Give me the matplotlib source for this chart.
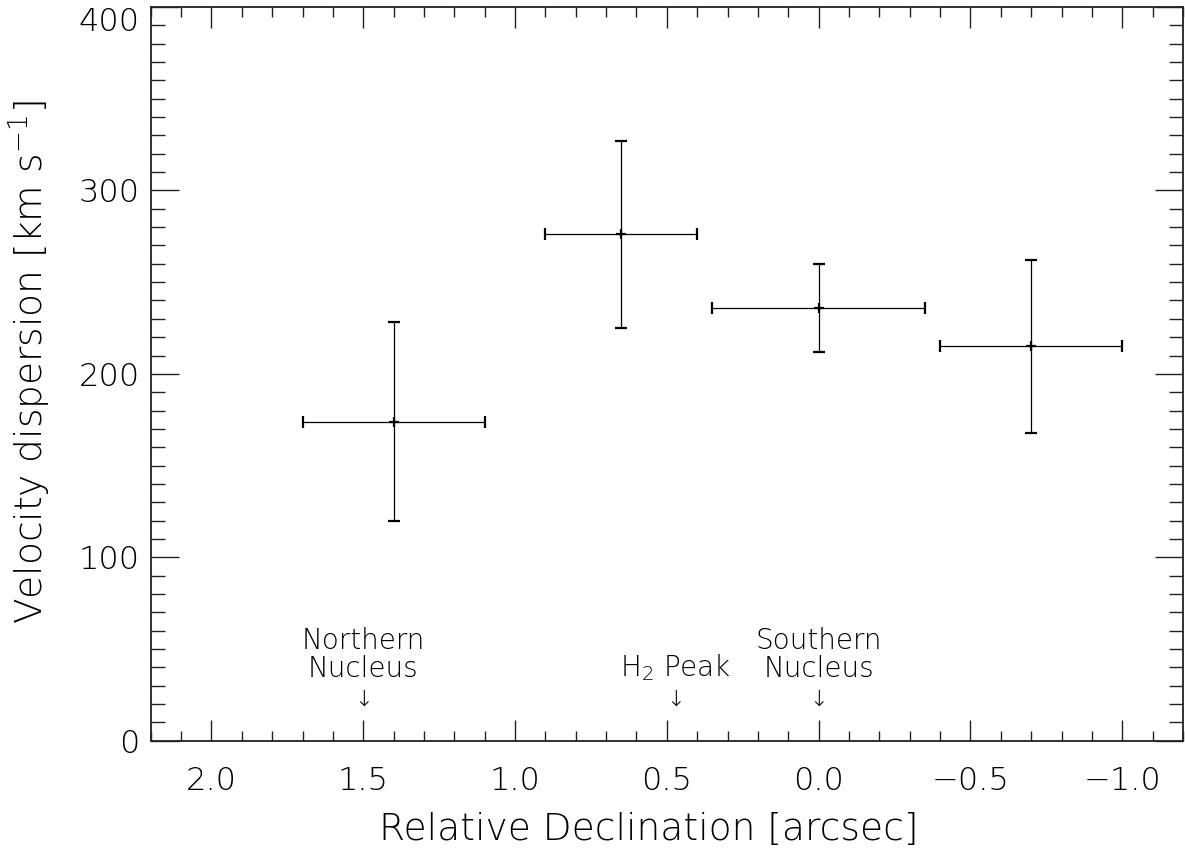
import numpy as np
import matplotlib
matplotlib.use("Agg")
import matplotlib.pyplot as plt
from matplotlib.ticker import MultipleLocator

# data
dec = [1.4, 0.65, 0.0, -0.7]
dec_err = [0.3, 0.25, 0.35, 0.3]
sigma = [174, 276, 236, 215]
sigma_err = [54, 51, 24, 47]

labels = ["Northern\nNucleus", "H$_2$ Peak", "Southern\nNucleus"]
label_pos = [1.5, 0.47, 0.0]

plt.rcParams['font.family'] = ['DejaVu Sans']
plt.rcParams['mathtext.fontset'] = 'custom'
plt.rcParams['mathtext.rm'] = 'DejaVu Sans:light'
plt.rcParams['mathtext.it'] = 'DejaVu Sans:light'
plt.rcParams['mathtext.bf'] = 'DejaVu Sans:light'
plt.rcParams['mathtext.default'] = 'rm'

fig = plt.figure(figsize=(11.85, 8.58), dpi=100)
ax = fig.add_axes([150.7 / 1185, 1 - 740.7 / 858, (1183 - 150.7) / 1185, (740.7 - 7) / 858])

ax.errorbar(dec, sigma, xerr=dec_err, yerr=sigma_err, fmt='+', color='black',
            ms=7, mew=1.6, elinewidth=0.9, capsize=4.5, capthick=0.9)

for lab, x in zip(labels, label_pos):
    ax.text(x, 35, lab, ha='center', va='baseline', fontsize=20, fontweight='light',
            linespacing=1.0)
    ax.text(x, 22, '\u2193', ha='center', va='center', fontsize=16, fontweight='light')

ax.set_xlim(2.2, -1.2)
ax.set_ylim(0, 400)
ax.xaxis.set_major_locator(MultipleLocator(0.5))
ax.xaxis.set_minor_locator(MultipleLocator(0.1))
ax.yaxis.set_major_locator(MultipleLocator(100))
ax.yaxis.set_minor_locator(MultipleLocator(10))
ax.xaxis.set_major_formatter(plt.FuncFormatter(lambda v, p: ("%.1f" % v).replace('-', '\u2212')))

ax.tick_params(which='both', direction='in', top=True, right=True, color='#222222')
ax.tick_params(axis='x', which='major', length=15, width=1.0, labelsize=23, pad=18)
ax.tick_params(axis='x', which='minor', length=7, width=1.0)
ax.tick_params(axis='y', which='major', length=20, width=1.0, labelsize=23, pad=8)
ax.tick_params(axis='y', which='minor', length=10, width=1.0)
for lab in ax.get_xticklabels() + ax.get_yticklabels():
    lab.set_fontweight('light')
for t in ax.yaxis.get_major_ticks():
    if abs(t.get_loc() - 400) < 1e-6:
        t.label1.set_verticalalignment('top')
for s in ax.spines.values():
    s.set_linewidth(1.3)
    s.set_color('#222222')

ax.set_xlabel('Relative Declination [arcsec]', fontsize=27, fontweight='light')
ax.set_ylabel(r'Velocity dispersion [km s$^{-1}$]', fontsize=27, fontweight='light')
ax.xaxis.label.set_verticalalignment('center')
ax.yaxis.label.set_verticalalignment('center')
ax.xaxis.set_label_coords(0.482, -0.121)
ax.yaxis.set_label_coords(-0.117, 0.516)

fig.savefig('out.png', dpi=100)
